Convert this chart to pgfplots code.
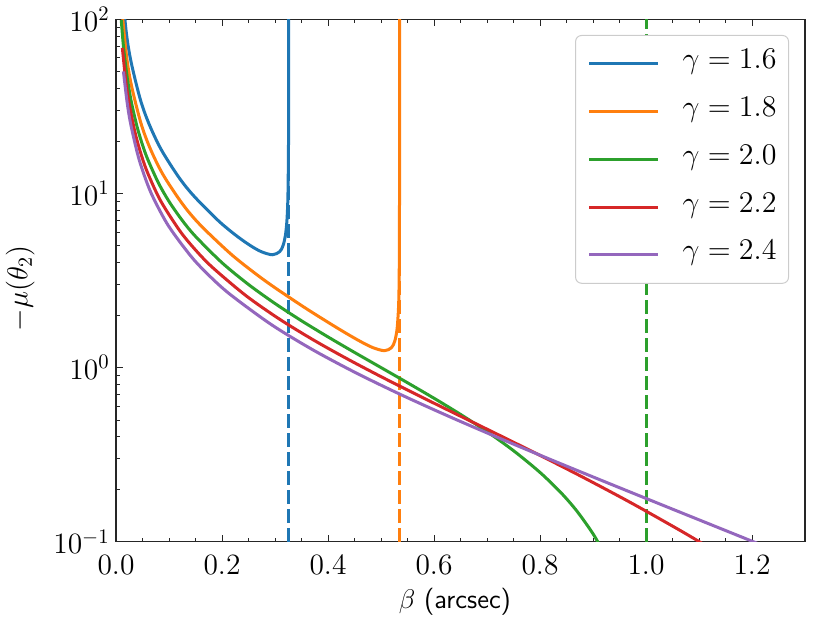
\RequirePackage{fix-cm}
\documentclass[border=0pt]{standalone}
\usepackage{pgfplots}
\pgfplotsset{compat=1.18}
\definecolor{cblue}{HTML}{1F77B4}
\definecolor{corange}{HTML}{FF7F0E}
\definecolor{cgreen}{HTML}{2CA02C}
\definecolor{cred}{HTML}{D62728}
\definecolor{cpurple}{HTML}{9467BD}
\begin{document}
\begin{tikzpicture}
\path[use as bounding box] (0,0) rectangle (415pt,311.5pt);
\begin{axis}[
  at={(58pt,40.65pt)}, anchor=south west,
  scale only axis, width=344.5pt, height=261.2pt,
  xmin=0, xmax=1.3, ymin=0.1, ymax=100, ymode=log,
  xtick={0,0.2,0.4,0.6,0.8,1.0,1.2},
  minor x tick num=3,
  ytick={0.1,1,10,100},
  xtick pos=both, ytick pos=left, xticklabel pos=lower,
  tick align=inside,
  major tick length=3.5pt, minor tick length=2pt,
  every tick/.style={black!85, line width=0.45pt},
  axis line style={black!85, line width=0.65pt},
  tick label style={font=\fontsize{14.75}{17}\selectfont},
  xticklabel style={/pgf/number format/.cd, fixed, fixed zerofill, precision=1, /tikz/.cd, inner sep=0pt, yshift=-6.6pt},
  yticklabel style={inner sep=0pt, xshift=-3pt},
  xlabel={$\beta$ \textsf{(arcsec)}},
  xlabel style={at={(axis description cs:0.492,-0.1275)}, anchor=base, font=\fontsize{13.5}{16}\selectfont},
  ylabel={$-\mu(\theta_2)$},
  ylabel style={at={(axis description cs:-0.12845,0.4847)}, anchor=base, font=\fontsize{14.4}{17}\selectfont},
  legend cell align=left,
  legend image code/.code={\draw[#1] (0pt,0pt) -- (34.5pt,0pt);},
  legend style={at={(0.9768,0.970)}, anchor=north east, draw=black!20, line width=0.5pt,
    rounded corners=3pt, fill=white, inner xsep=6pt, inner ysep=6.75pt,
    row sep=8.85pt, column sep=11.5pt, font=\fontsize{15}{18}\selectfont,
    nodes={inner sep=0pt, text height=10pt, text depth=5pt}},
]
% gamma = 1.6
\addplot[cblue, line width=1.5pt, line join=round, smooth] coordinates {
(0.009836,167.8) (0.019351,84.46) (0.028558,56.69) (0.046095,34.48) (0.062535,24.98)
(0.085312,17.857) (0.11883,12.346) (0.147592,9.615) (0.19374,6.944) (0.22830,5.682)
(0.25438,5.0) (0.274127,4.630) (0.29512,4.444) (0.308783,4.630) (0.31498,5.0)
(0.319419,5.682) (0.322462,6.944) (0.324386,9.615) (0.325419,17.857) (0.325656,34.48)
(0.325718,84.46) (0.325727,167.8)};
\addlegendentry{$\gamma = 1.6$}
\addplot[cblue, line width=1.5pt, dash pattern=on 6.65pt off 2.85pt, forget plot] coordinates {(0.32573,0.1) (0.32573,100)};
% gamma = 1.8
\addplot[corange, line width=1.5pt, line join=round, smooth] coordinates {
(0.009876,125.3) (0.019511,62.81) (0.028912,41.98) (0.047042,25.32) (0.064323,18.175)
(0.088769,12.821) (0.125956,8.658) (0.15924,6.579) (0.216119,4.505) (0.262664,3.472)
(0.301201,2.857) (0.360609,2.165) (0.420448,1.667) (0.45897,1.4245) (0.484622,1.302)
(0.506558,1.25) (0.51983,1.302) (0.526152,1.4245) (0.53033,1.667) (0.53294,2.165)
(0.534016,2.857) (0.534661,4.505) (0.53485,6.579) (0.534955,12.82) (0.534984,25.32)
(0.534992,62.81) (0.534992,125.3)};
\addlegendentry{$\gamma = 1.8$}
\addplot[corange, line width=1.5pt, dash pattern=on 6.65pt off 2.85pt, forget plot] coordinates {(0.53499,0.1) (0.53499,100)};
% gamma = 2.0
\addplot[cgreen, line width=1.5pt, line join=round, smooth] coordinates {
(0.01,99) (0.0125,79) (0.015,65.667) (0.02,49) (0.025,39) (0.03,32.333) (0.04,24)
(0.05,19) (0.06,15.667) (0.08,11.5) (0.1,9) (0.125,7) (0.15,5.667) (0.2,4) (0.25,3)
(0.3,2.333) (0.35,1.857) (0.4,1.5) (0.45,1.222) (0.5,1) (0.55,0.8182) (0.6,0.6667)
(0.65,0.5385) (0.7,0.4286) (0.75,0.3333) (0.8,0.25) (0.84,0.1905) (0.87,0.1494)
(0.9,0.1111) (0.92,0.08696)};
\addlegendentry{$\gamma = 2.0$}
\addplot[cgreen, line width=1.5pt, dash pattern=on 6.65pt off 2.85pt, forget plot] coordinates {(1.0,0.1) (1.0,100)};
% gamma = 2.2
\addplot[cred, line width=1.5pt, line join=round, smooth] coordinates {
(0.012012,68.54) (0.018027,45.39) (0.024049,33.82) (0.03611,22.25) (0.048198,16.46)
(0.060311,12.989) (0.08462,9.022) (0.121296,6.047) (0.152066,4.660) (0.183038,3.736)
(0.24564,2.582) (0.309224,1.8913) (0.373941,1.4323) (0.439977,1.1064) (0.507566,0.8634)
(0.577011,0.6761) (0.648698,0.5281) (0.723161,0.4090) (0.801124,0.3120) (0.883635,0.2323)
(0.97225,0.16695) (1.069508,0.11371) (1.133677,0.0870)};
\addlegendentry{$\gamma = 2.2$}
% gamma = 2.4
\addplot[cpurple, line width=1.5pt, line join=round, smooth] coordinates {
(0.014029,50.20) (0.021064,33.20) (0.028114,24.70) (0.042258,16.19) (0.056463,11.944)
(0.070729,9.394) (0.099454,6.481) (0.143045,4.299) (0.179865,3.282) (0.217167,2.6054)
(0.293362,1.7631) (0.371954,1.2616) (0.453353,0.9307) (0.538058,0.6979) (0.626717,0.5267)
(0.720159,0.3970) (0.819508,0.2968) (0.926305,0.2185) (1.0427,0.15705) (1.171848,0.10903)
(1.318629,0.07204)};
\addlegendentry{$\gamma = 2.4$}
\end{axis}
\end{tikzpicture}
\end{document}
